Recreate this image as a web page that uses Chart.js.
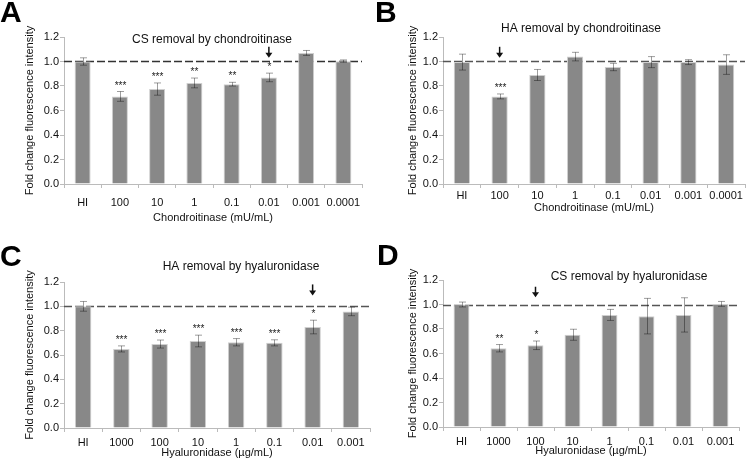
<!DOCTYPE html>
<html>
<head>
<meta charset="utf-8">
<script src="https://cdn.jsdelivr.net/npm/chart.js@4.4.1/dist/chart.umd.min.js"></script>
<style>
  body { margin: 0; background: #fff; }
  #wrap { position: relative; width: 749px; height: 463px; }
  canvas { position: absolute; }
</style>
</head>
<body>
<div id="wrap">
  <canvas id="chartA" width="375" height="231" style="left:0;top:0"></canvas>
  <canvas id="chartB" width="374" height="231" style="left:375px;top:0"></canvas>
  <canvas id="chartC" width="375" height="232" style="left:0;top:231px"></canvas>
  <canvas id="chartD" width="374" height="232" style="left:375px;top:231px"></canvas>
</div>
<script>
// categories
const chondroLabels = ['HI', '100', '10', '1', '0.1', '0.01', '0.001', '0.0001'];
const hyalLabels = ['HI', '1000', '100', '10', '1', '0.1', '0.01', '0.001'];

// A: CS removal by chondroitinase
const meanA = [1.00, 0.715, 0.775, 0.825, 0.815, 0.87, 1.07, 1.003];
const errA = [0.03, 0.04, 0.05, 0.04, 0.015, 0.035, 0.02, 0.01];
const starsA = ['', '***', '***', '**', '**', '*', '', ''];

// B: HA removal by chondroitinase
const meanB = [0.995, 0.715, 0.89, 1.04, 0.955, 0.995, 0.995, 0.975];
const errB = [0.065, 0.02, 0.045, 0.035, 0.03, 0.045, 0.02, 0.08];
const starsB = ['', '***', '', '', '', '', '', ''];

// C: HA removal by hyaluronidase
const meanC = [1.00, 0.65, 0.69, 0.715, 0.705, 0.70, 0.83, 0.958];
const errC = [0.04, 0.025, 0.033, 0.048, 0.03, 0.025, 0.056, 0.035];
const starsC = ['', '***', '***', '***', '***', '***', '*', ''];

// D: CS removal by hyaluronidase
const meanD = [1.00, 0.643, 0.667, 0.753, 0.915, 0.905, 0.915, 1.005];
const errD = [0.02, 0.03, 0.035, 0.045, 0.045, 0.145, 0.14, 0.02];
const starsD = ['', '**', '*', '', '', '', '', ''];

const yTicks = [0, 0.2, 0.4, 0.6, 0.8, 1.0, 1.2];

const FONT = "'Liberation Sans', Arial, sans-serif";

const extras = {
  id: 'extras',
  beforeDatasetsDraw(chart, args, opts) {
    const ctx = chart.ctx, area = chart.chartArea;
    const yy = Math.round(chart.scales.y.getPixelForValue(1)) + 0.5;
    ctx.save();
    ctx.strokeStyle = opts.dashColor;
    ctx.lineWidth = 1.5;
    ctx.setLineDash([8, 3]);
    ctx.beginPath();
    ctx.moveTo(area.left, yy);
    ctx.lineTo(area.right, yy);
    ctx.stroke();
    ctx.restore();
  },
  afterDatasetsDraw(chart, args, opts) {
    const ctx = chart.ctx;
    const x = chart.scales.x, y = chart.scales.y;
    const means = chart.data.datasets[0].data;
    ctx.save();
    // error bars
    ctx.strokeStyle = 'rgba(0,0,0,0.38)';
    ctx.lineWidth = 1;
    means.forEach((m, i) => {
      const px = Math.round(x.getPixelForValue(i)) + 0.5;
      const t = y.getPixelForValue(m + opts.err[i]);
      const b = y.getPixelForValue(m - opts.err[i]);
      ctx.beginPath();
      ctx.moveTo(px, t); ctx.lineTo(px, b);
      ctx.moveTo(px - 3.5, t); ctx.lineTo(px + 3.5, t);
      ctx.moveTo(px - 3.5, b); ctx.lineTo(px + 3.5, b);
      ctx.stroke();
      if (opts.stars[i]) {
        ctx.fillStyle = '#222';
        ctx.font = '10px ' + FONT;
        ctx.textAlign = 'center';
        ctx.textBaseline = 'alphabetic';
        ctx.fillText(opts.stars[i], px, t - 3);
      }
    });
    // arrow
    const a = opts.arrow;
    const ax = x.getPixelForValue(a.idx);
    const y1 = y.getPixelForValue(a.from), y2 = y.getPixelForValue(a.to);
    ctx.strokeStyle = '#111';
    ctx.fillStyle = '#111';
    ctx.lineWidth = 1.5;
    ctx.beginPath();
    ctx.moveTo(ax, y1); ctx.lineTo(ax, y2 - 4);
    ctx.stroke();
    ctx.beginPath();
    ctx.moveTo(ax - 3.5, y2 - 5); ctx.lineTo(ax + 3.5, y2 - 5); ctx.lineTo(ax, y2);
    ctx.closePath();
    ctx.fill();
    ctx.restore();
  },
  afterDraw(chart, args, opts) {
    const ctx = chart.ctx;
    ctx.save();
    ctx.fillStyle = '#111';
    ctx.font = '12px ' + FONT;
    ctx.textAlign = 'center';
    ctx.textBaseline = 'middle';
    ctx.fillText(opts.title, opts.titleX, opts.titleY);
    ctx.fillStyle = '#000';
    ctx.font = 'bold 30px ' + FONT;
    ctx.textAlign = 'left';
    ctx.textBaseline = 'alphabetic';
    ctx.fillText(opts.letter, opts.letterX, opts.letterY);
    ctx.restore();
  }
};

function makeChart(id, labels, means, errs, stars, xTitle, p) {
  return new Chart(document.getElementById(id), {
    type: 'bar',
    data: {
      labels: labels,
      datasets: [{
        data: means,
        backgroundColor: '#888888',
        borderColor: '#cfcfcf',
        borderWidth: 1,
        barPercentage: 0.43,
        categoryPercentage: 1.0
      }]
    },
    options: {
      responsive: false,
      animation: false,
      events: [],
      layout: { padding: p.pad },
      plugins: {
        legend: { display: false },
        tooltip: { enabled: false },
        extras: {
          err: errs, stars: stars, arrow: p.arrow, dashColor: p.dash,
          title: p.title, titleX: p.titleX, titleY: p.titleY,
          letter: p.letter, letterX: p.letterX, letterY: p.letterY
        }
      },
      scales: {
        x: {
          grid: { drawOnChartArea: false, drawTicks: true, tickLength: 4, color: '#bbb', offset: true },
          border: { color: '#bbb' },
          ticks: { color: '#111', font: { family: FONT, size: 11 }, padding: p.xTickPad, maxRotation: 0, autoSkip: false },
          title: { display: true, text: xTitle, color: '#111', font: { family: FONT, size: 11 }, padding: { top: 0, bottom: p.xTitlePad } },
          afterFit: s => { s.height = p.xHeight; }
        },
        y: {
          min: 0, max: 1.2,
          afterBuildTicks: s => { s.ticks = yTicks.map(v => ({ value: v })); },
          grid: { drawOnChartArea: false, drawTicks: true, tickLength: 4, color: '#bbb' },
          border: { color: '#bbb' },
          ticks: { color: '#111', font: { family: FONT, size: 11 }, padding: 1, callback: v => v.toFixed(1) },
          title: { display: true, text: 'Fold change fluorescence intensity', color: '#111', font: { family: FONT, size: 11 }, padding: { top: 3, bottom: 0 } },
          afterFit: s => { s.width = p.yWidth; }
        }
      }
    },
    plugins: [extras]
  });
}

makeChart('chartA', chondroLabels, meanA, errA, starsA, 'Chondroitinase (mU/mL)', {
  pad: { left: 20, right: 13, top: 37, bottom: 0 }, yWidth: 44, xHeight: 47, xTickPad: 8, xTitlePad: 6,
  arrow: { idx: 5, from: 1.12, to: 1.03 }, dash: '#333',
  title: 'CS removal by chondroitinase', titleX: 212, titleY: 40,
  letter: 'A', letterX: 0, letterY: 22
});
makeChart('chartB', chondroLabels, meanB, errB, starsB, 'Chondroitinase (mU/mL)', {
  pad: { left: 28, right: 4, top: 37, bottom: 10 }, yWidth: 40, xHeight: 37, xTickPad: 1, xTitlePad: 6,
  arrow: { idx: 1, from: 1.12, to: 1.03 }, dash: '#555',
  title: 'HA removal by chondroitinase', titleX: 206, titleY: 29,
  letter: 'B', letterX: 0, letterY: 22
});
makeChart('chartC', hyalLabels, meanC, errC, starsC, 'Hyaluronidase (\u00b5g/mL)', {
  pad: { left: 20, right: 5, top: 51, bottom: 0 }, yWidth: 44, xHeight: 35, xTickPad: 4, xTitlePad: 3,
  arrow: { idx: 6, from: 1.18, to: 1.09 }, dash: '#555',
  title: 'HA removal by hyaluronidase', titleX: 241, titleY: 36,
  letter: 'C', letterX: 0, letterY: 35
});
makeChart('chartD', hyalLabels, meanD, errD, starsD, 'Hyaluronidase (\u00b5g/mL)', {
  pad: { left: 28, right: 10, top: 49, bottom: 0 }, yWidth: 40, xHeight: 36, xTickPad: 4, xTitlePad: 5,
  arrow: { idx: 2, from: 1.145, to: 1.06 }, dash: '#555',
  title: 'CS removal by hyaluronidase', titleX: 254, titleY: 46,
  letter: 'D', letterX: 2, letterY: 34
});
</script>
</body>
</html>
